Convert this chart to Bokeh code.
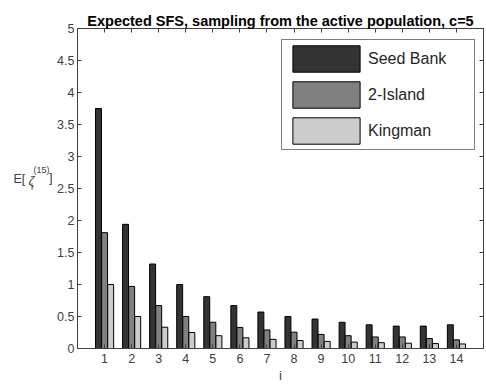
from bokeh.plotting import figure
from bokeh.models import (ColumnDataSource, FixedTicker, LinearAxis, Label,
                          Legend, LegendItem)
from bokeh.transform import dodge
from bokeh.embed import file_html
from bokeh.resources import INLINE

# Expected site frequency spectrum, sample size n = 15
i_vals = list(range(1, 15))
x_tick_labels = [str(v) for v in i_vals]
seed_bank = [3.75, 1.94, 1.32, 1.0, 0.81, 0.67, 0.57, 0.5, 0.46, 0.41, 0.37, 0.35, 0.35, 0.37]
two_island = [1.81, 0.97, 0.67, 0.5, 0.41, 0.33, 0.29, 0.255, 0.22, 0.2, 0.18, 0.18, 0.155, 0.135]
kingman = [1.0, 0.5, 0.333, 0.25, 0.2, 0.167, 0.143, 0.125, 0.111, 0.1, 0.091, 0.083, 0.077, 0.071]
series_names = ["Seed Bank", "2-Island", "Kingman"]
y_ticks = [0, 0.5, 1, 1.5, 2, 2.5, 3, 3.5, 4, 4.5, 5]
y_tick_labels = ["0", "0.5", "1", "1.5", "2", "2.5", "3", "3.5", "4", "4.5", "5"]

FONT = "Liberation Sans"
AXIS_GREY = "#404040"

source = ColumnDataSource(dict(i=i_vals, seed=seed_bank, island=two_island, king=kingman))

p = figure(width=486, height=385, x_range=(0, 15), y_range=(0, 5),
           output_backend="svg", toolbar_location=None,
           min_border_left=77, min_border_right=3, min_border_top=28,
           min_border_bottom=37, background_fill_color="white",
           border_fill_color="white")

p.title.text = "Expected SFS, sampling from the active population, c=5"
p.title.text_font = FONT
p.title.text_font_size = "14.5px"
p.title.text_font_style = "bold"
p.title.text_color = "black"
p.title.align = "center"
p.title.standoff = 0
p.title.offset = 0

fills = ["#333333", "#808080", "#cccccc"]
fields = ["seed", "island", "king"]
offsets = [-0.225, 0.0, 0.225]
renderers = []
for field, color, off in zip(fields, fills, offsets):
    r = p.vbar(x=dodge("i", off, range=p.x_range), top=field, width=0.22,
               source=source, fill_color=color, line_color="black", line_width=1)
    renderers.append(r)

p.xgrid.visible = False
p.ygrid.visible = False
p.outline_line_color = AXIS_GREY

def style_axis(ax, show_labels):
    ax.axis_line_color = AXIS_GREY
    ax.major_tick_line_color = AXIS_GREY
    ax.major_tick_in = 4
    ax.major_tick_out = 0
    ax.minor_tick_line_color = None
    ax.major_label_text_font = FONT
    if show_labels:
        ax.major_label_text_font_size = "12.5px"
        ax.major_label_text_color = AXIS_GREY
    else:
        # tick marks only, no tick labels on the mirrored axes
        ax.major_label_text_font_size = "1px"
        ax.major_label_text_color = None
        ax.major_label_standoff = 0

xa = p.xaxis[0]
xa.ticker = FixedTicker(ticks=i_vals)
xa.major_label_overrides = {v: s for v, s in zip(i_vals, x_tick_labels)}
style_axis(xa, True)
xa.major_label_standoff = 5
xa.axis_label = "i"
xa.axis_label_text_font = FONT
xa.axis_label_text_font_style = "normal"
xa.axis_label_text_font_size = "13px"
xa.axis_label_text_color = AXIS_GREY
xa.axis_label_standoff = 2

ya = p.yaxis[0]
ya.ticker = FixedTicker(ticks=y_ticks)
ya.major_label_overrides = {v: s for v, s in zip(y_ticks, y_tick_labels)}
style_axis(ya, True)
ya.major_label_standoff = 3

top_ax = LinearAxis(ticker=FixedTicker(ticks=i_vals))
style_axis(top_ax, False)
p.add_layout(top_ax, "above")
right_ax = LinearAxis(ticker=FixedTicker(ticks=y_ticks))
style_axis(right_ax, False)
p.add_layout(right_ax, "right")

# y-axis label written horizontally: E[ zeta_i^(15) ]  (canvas pixel positions)
ylab_parts = [
    ("E[", 13, 178, "12.5px", "normal"),
    ("\u03b6", 28, 180, "13px", "italic"),
    ("(15)", 33, 169, "9px", "normal"),
    ("i", 30.5, 186, "9px", "normal"),
    ("]", 48.5, 177, "13px", "normal"),
]
for txt, lx, ly, size, style in ylab_parts:
    p.add_layout(Label(x=lx, y=ly, x_units="canvas", y_units="canvas", text=txt,
                       text_font=FONT, text_font_size=size,
                       text_font_style=style, text_color=AXIS_GREY,
                       text_baseline="alphabetic", text_align="left"), "left")

legend = Legend(items=[LegendItem(label=n, renderers=[r])
                       for n, r in zip(series_names, renderers)],
                location=(204, 198))
legend.glyph_width = 84
legend.glyph_height = 33
legend.label_width = 104
legend.label_standoff = 0
legend.padding = 2
legend.spacing = 3
legend.margin = 0
legend.label_text_font = FONT
legend.label_text_font_size = "16px"
legend.label_text_color = "#262626"
legend.border_line_color = "black"
legend.border_line_width = 1
legend.background_fill_color = "white"
legend.background_fill_alpha = 1.0
p.add_layout(legend)

open("out.html", "w").write(file_html(p, INLINE))
